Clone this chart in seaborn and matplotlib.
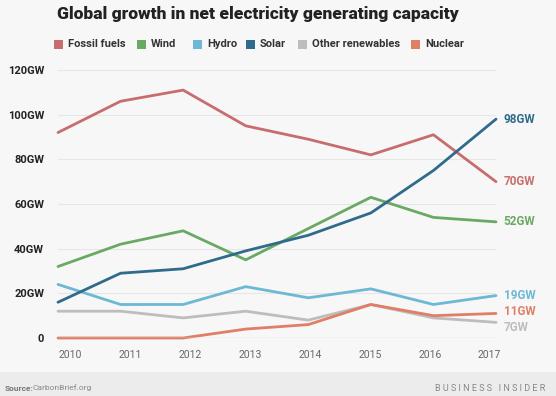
import matplotlib
matplotlib.use("Agg")
import matplotlib.pyplot as plt
from matplotlib.patches import Rectangle
import seaborn as sns
import numpy as np
import pandas as pd

years = [2010, 2011, 2012, 2013, 2014, 2015, 2016, 2017]
fossil = [92, 106, 111, 95, 89, 82, 91, 70]
wind = [32, 42, 48, 35, 49, 63, 54, 52]
hydro = [24, 15, 15, 23, 18, 22, 15, 19]
solar = [16, 29, 31, 39, 46, 56, 75, 98]
other = [12, 12, 9, 12, 8, 15, 9, 7]
nuclear = [0, 0, 0, 4, 6, 15, 10, 11]

names = ["Fossil fuels", "Wind", "Hydro", "Solar", "Other renewables", "Nuclear"]
series = [fossil, wind, hydro, solar, other, nuclear]
colors = ["#c86d6e", "#6aa964", "#6cb8d5", "#2f6b8b", "#bdbdbd", "#e07e66"]
end_offsets = [0, 0, 0, 0, -2.5, 1]

rows = []
for n, vals in zip(names, series):
    for y, v in zip(years, vals):
        rows.append({"year": y, "value": v, "source": n})
df = pd.DataFrame(rows)

sns.set_style("white")
plt.rcParams["font.family"] = ["Roboto", "DejaVu Sans"]

W, H = 556, 396
bg = "#f7f7f7"
fig = plt.figure(figsize=(W / 100, H / 100), dpi=100, facecolor=bg)
ax = fig.add_axes([58 / W, 58 / H, 438 / W, 268 / H])
ax.set_facecolor(bg)

sns.lineplot(data=df, x="year", y="value", hue="source", hue_order=names,
             palette=colors, linewidth=2, ax=ax, legend=False)
for line in ax.lines:
    line.set_clip_on(False)

ax.set_xlim(2010, 2017)
ax.set_ylim(0, 120)
ax.set_yticks(range(0, 121, 20))
ax.set_yticklabels(["0"] + [f"{v}GW" for v in range(20, 121, 20)],
                   fontsize=8, fontweight="bold", color="#222222")
# year labels in the original sit on a slightly narrower, evenly spaced row
ax.set_xticks(np.linspace(2010.2, 2016.9, len(years)))
ax.set_xticklabels([str(y) for y in years], fontsize=7.5, color="#666666")
ax.tick_params(axis="y", length=0, pad=10)
ax.tick_params(axis="x", length=0, pad=9)
ax.grid(axis="y", color="#e6e6e6", linewidth=0.8)
ax.grid(axis="x", visible=False)
ax.axhline(0, color="#dddddd", linewidth=1)
for s in ax.spines.values():
    s.set_visible(False)
ax.set_xlabel("")
ax.set_ylabel("")

for n, vals, c, off in zip(names, series, colors, end_offsets):
    ax.text(2017.12, vals[-1] + off, f"{vals[-1]}GW", color=c, fontsize=8.5,
            fontweight="bold", va="center", ha="left")

fig.text(0.463, 0.965, "Global growth in net electricity generating capacity",
         ha="center", va="center", fontsize=12.5, fontweight="heavy", color="#222222")

# legend row: colour squares followed by labels
legend_x = [54, 137, 193, 246, 298, 411]
legend_y = H - 44
for x, n, c in zip(legend_x, names, colors):
    fig.patches.append(Rectangle((x / W, (legend_y - 4.5) / H), 9 / W, 9 / H,
                                 transform=fig.transFigure, facecolor=c,
                                 edgecolor="none"))
    fig.text((x + 14) / W, legend_y / H, n, fontsize=8, fontweight="bold",
             color="#333333", ha="left", va="center")

fig.patches.append(Rectangle((0, 0), 1, 24 / H, transform=fig.transFigure,
                             facecolor="#ececec", edgecolor="none", zorder=0))
fig.text(0.008, 0.02, "Source:", fontsize=6, fontweight="bold", color="#777777",
         ha="left", va="center")
fig.text(0.058, 0.02, "CarbonBrief.org", fontsize=6, color="#888888",
         ha="left", va="center")
fig.text(0.98, 0.02, "B U S I N E S S   I N S I D E R", fontsize=6.5, color="#888888",
         ha="right", va="center")

fig.savefig("out.png", dpi=100, facecolor=bg)
